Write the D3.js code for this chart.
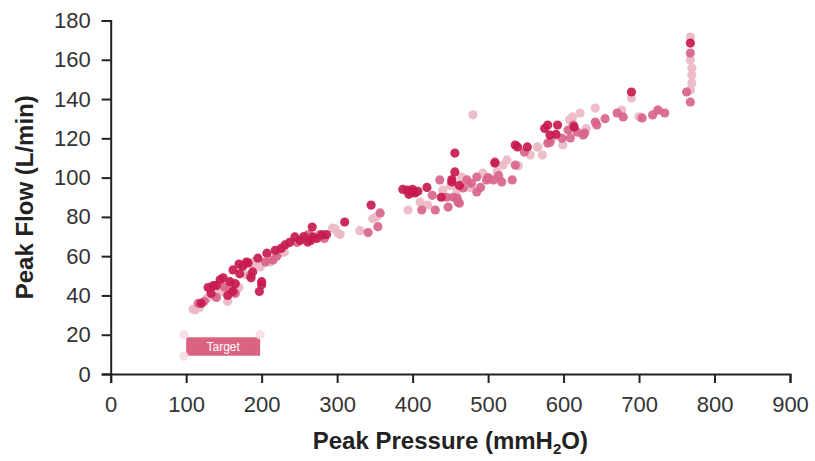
<!DOCTYPE html>
<html>
<head>
<meta charset="utf-8">
<script src="https://cdn.jsdelivr.net/npm/d3@7"></script>
<style>
  body { margin: 0; background: #fff; }
  svg { display: block; font-family: "Liberation Sans", Arial, Helvetica, sans-serif; }
  .axis path, .axis line { stroke: #222; stroke-width: 2; }
  .axis text { font-size: 22px; fill: #333; }
  .title { font-size: 24px; font-weight: bold; fill: #222; }
</style>
</head>
<body>
<svg id="chart" width="815" height="461"></svg>
<script>
var WIDTH = 815;
var HEIGHT = 461;
var X_RANGE = [110.7, 790];
var Y_RANGE = [374, 20.5];

var xTicks = [0, 100, 200, 300, 400, 500, 600, 700, 800, 900];
var yTicks = [0, 20, 40, 60, 80, 100, 120, 140, 160, 180];

// [peak pressure, peak flow]
var darkPoints = [
  [120, 36], [129, 44], [133, 41], [136, 45], [140, 45], [145, 48], [149, 49], [155, 40],
  [158, 47], [162, 42], [165, 46], [162, 53], [170, 56], [171, 51], [175, 55], [180, 57],
  [182, 56.5], [186, 49], [188, 52], [197, 42], [200, 45.5], [200, 47],
  [195, 59], [207, 61.5], [218, 63], [226, 64], [231, 65.7], [237, 67], [244, 69.8], [251, 68],
  [256, 70], [261, 67.2], [265, 68], [268, 69.8], [273, 69], [280, 70.8], [286, 71],
  [267, 74.8], [310, 77.4],
  [345, 86], [387, 94], [393, 93.7], [398, 92.7], [400, 94], [403, 92.2], [407, 93],
  [395, 91.5], [419, 95], [438, 90],
  [452, 97.8], [456, 112.5], [456, 102.9], [452, 99], [462, 96], [509, 107.4],
  [536, 116.6], [539, 115.6], [552, 115.6], [575, 125], [579, 126.8], [592, 126.8],
  [582, 121.7], [590, 122], [614, 125.8], [690, 143.6], [768, 168.5]
];

var midPoints = [
  [116, 36], [124, 37], [140, 39], [151, 44.3], [158, 43], [165, 41], [185, 50], [205, 57],
  [215, 58], [220, 60], [247, 67], [262, 71], [277, 71], [283, 69],
  [354, 75], [341, 72], [357, 82],
  [412, 83.5], [426, 91], [430, 83.5], [436, 98.8], [445, 90], [447, 85], [454, 90],
  [459, 89.6], [460, 87.6], [462, 87], [467, 94.7], [472, 98.8], [478, 97], [485, 100.3],
  [485, 92.7], [490, 95], [498, 98.8], [500, 100], [507, 98.8], [509, 108], [514, 101],
  [518, 97.8], [532, 98.8], [536, 106.4], [548, 113],
  [579, 117.6], [582, 118], [598, 120], [606, 124.2], [609, 120.2], [613, 126.8], [618, 123.2],
  [626, 121.7], [628, 122.7], [642, 128.3], [644, 126.8], [655, 130], [671, 132.9], [679, 130.9],
  [704, 130.4], [718, 131.9], [725, 134.4], [734, 132.9],
  [768, 163.4], [763, 143.6], [768, 138.5]
];

var lightPoints = [
  [109, 33], [112, 32.6], [118, 34], [128, 38.7], [136, 40], [146, 42], [155, 37],
  [167, 45.3], [170, 44], [175, 54.5], [180, 50.4], [188, 57],
  [191, 54.5], [198, 54.5], [211, 57], [224, 61.6], [230, 62],
  [294, 74.3], [301, 71.8], [297, 74], [304, 71], [330, 73], [347, 79], [352, 80],
  [394, 83.5], [410, 87.6], [420, 86], [440, 93.7], [450, 96], [459, 93.7], [465, 100.3],
  [476, 95], [493, 102.3], [512, 103], [520, 106.4], [525, 109], [540, 106], [480, 132],
  [556, 111.5], [565, 115.6], [572, 111.5], [566, 115.6], [585, 120], [599, 116.6],
  [608, 129.4], [612, 130.9], [622, 132.9], [630, 125], [642, 135.4], [677, 134.4],
  [690, 140.5], [700, 131], [725, 134.4],
  [768, 171.6], [768, 159.9], [770, 155.8], [770, 152.2], [770, 148.2], [768, 144.6]
];

var faintPoints = [[97, 20], [198, 20], [97, 9]];

var targetPressure = [100, 198];
var targetFlow = [9.3, 18.7];
var targetLabel = 'Target';

var svg = d3.select('#chart');

var xScale = d3.scaleLinear().domain([0, 900]).range(X_RANGE);
var yScale = d3.scaleLinear().domain([0, 180]).range(Y_RANGE);

var xAxis = d3.axisBottom(xScale).tickValues(xTicks).tickSize(9).tickPadding(13);
var yAxis = d3.axisLeft(yScale).tickValues(yTicks).tickSize(9).tickPadding(11);

svg.append('g')
  .attr('class', 'axis axis-x')
  .attr('transform', 'translate(0, ' + Y_RANGE[0] + ')')
  .call(xAxis);

svg.append('g')
  .attr('class', 'axis axis-y')
  .attr('transform', 'translate(' + X_RANGE[0] + ', 0)')
  .call(yAxis);

// target box
svg.append('rect')
  .attr('x', xScale(targetPressure[0]))
  .attr('y', yScale(targetFlow[1]))
  .attr('width', xScale(targetPressure[1]) - xScale(targetPressure[0]))
  .attr('height', yScale(targetFlow[0]) - yScale(targetFlow[1]))
  .attr('fill', '#da6381');

svg.append('text')
  .attr('x', xScale(d3.mean(targetPressure)))
  .attr('y', yScale(d3.mean(targetFlow)))
  .attr('dy', '0.35em')
  .attr('text-anchor', 'middle')
  .attr('font-size', 12)
  .attr('fill', '#fff')
  .text(targetLabel);

var series = [
  { points: faintPoints, color: '#f6dde4' },
  { points: lightPoints, color: '#ebb8c6' },
  { points: midPoints, color: '#d8648a' },
  { points: darkPoints, color: '#c81a4e' }
];

series.forEach(s => {
  svg.append('g')
    .selectAll('circle')
    .data(s.points)
    .enter()
    .append('circle')
    .attr('cx', d => xScale(d[0]))
    .attr('cy', d => yScale(d[1]))
    .attr('r', 4.6)
    .attr('fill', s.color)
    .attr('fill-opacity', 0.92);
});

// axis titles
svg.append('text')
  .attr('class', 'title')
  .attr('transform', 'translate(33, ' + d3.mean(Y_RANGE) + ') rotate(-90)')
  .attr('text-anchor', 'middle')
  .text('Peak Flow (L/min)');

var xTitle = svg.append('text')
  .attr('class', 'title')
  .attr('x', d3.mean(X_RANGE))
  .attr('y', 449)
  .attr('text-anchor', 'middle');
xTitle.append('tspan').text('Peak Pressure (mmH');
xTitle.append('tspan').attr('font-size', 15).attr('dy', 5).text('2');
xTitle.append('tspan').attr('dy', -5).text('O)');
</script>
</body>
</html>
